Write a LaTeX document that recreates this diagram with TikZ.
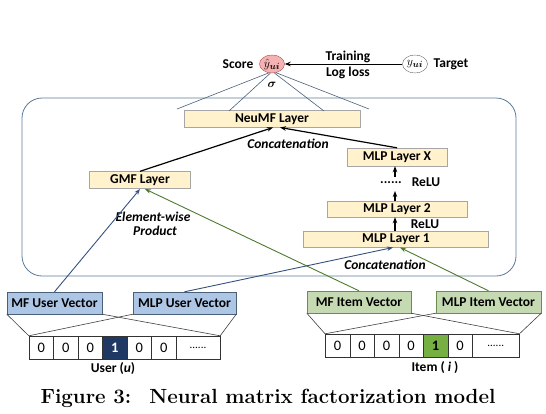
\documentclass[tikz,border=0pt]{standalone}
\usepackage{amsmath}
\usepackage{fontspec}
\setsansfont{Carlito}
\usetikzlibrary{arrows.meta,shapes.geometric}
\definecolor{yel}{HTML}{FFF2CC}
\definecolor{yelb}{HTML}{A6A6A6}
\definecolor{ufill}{HTML}{ADC6E5}
\definecolor{uline}{HTML}{4A6078}
\definecolor{ifill}{HTML}{C5D9B3}
\definecolor{iline}{HTML}{6D8B4E}
\definecolor{ucell}{HTML}{1F3864}
\definecolor{icell}{HTML}{76B043}
\definecolor{uarrow}{HTML}{35527F}
\definecolor{iarrow}{HTML}{4E7A2E}
\definecolor{contc}{HTML}{5B7A99}
\definecolor{scfill}{HTML}{F4B2B2}
\definecolor{scline}{HTML}{B04848}
\begin{document}
\begin{tikzpicture}[x=1pt,y=-1pt,
  lbl/.style={font=\sffamily\bfseries\fontsize{13.5}{14}\selectfont, inner sep=0pt},
  ilbl/.style={font=\sffamily\bfseries\itshape\fontsize{13.5}{14}\selectfont, inner sep=0pt},
  layer/.style={lbl, draw=yelb, fill=yel, minimum height=17pt},
  uvec/.style={lbl, draw=uline, fill=ufill, minimum height=22pt},
  ivec/.style={lbl, draw=iline, fill=ifill, minimum height=22pt},
  cell/.style={draw=black!80, minimum width=24.5pt, minimum height=23pt, inner sep=0pt, font=\sffamily\fontsize{14.5}{14.5}\selectfont},
  bigcell/.style={cell, font=\sffamily\fontsize{11}{11}\selectfont},
  blk/.style={-{Stealth[length=6pt,width=4.5pt]}, line width=1.2pt, black},
  uarr/.style={-{Stealth[length=6pt,width=4.5pt]}, line width=0.9pt, uarrow},
  iarr/.style={-{Stealth[length=6pt,width=4.5pt]}, line width=0.9pt, iarrow},
  thin/.style={draw=uline, line width=0.6pt},
  trap/.style={draw=black!75, line width=0.6pt}
]
\useasboundingbox (0,0) rectangle (546,413);

% container
\node[draw=contc, line width=0.8pt, rounded corners=20pt, minimum width=494pt, minimum height=178pt, inner sep=0pt] (cont) at (269,187) {};

% top
\node[ellipse, draw=scline, fill=scfill, minimum width=25pt, minimum height=18pt, inner sep=0pt] (score) at (272,64) {\fontsize{12.5}{12}\selectfont$\hat{y}_{\boldsymbol{ui}}$};
\node[ellipse, draw=black!60, fill=white, minimum width=25pt, minimum height=18pt, inner sep=0pt] (target) at (415,64) {\fontsize{12.5}{12}\selectfont$y_{\boldsymbol{ui}}$};
\node[lbl] (scorel) at (238,64) {Score};
\node[lbl] (targetl) at (451,64) {Target};
\node[lbl] (train) at (348,57) {Training};
\node[lbl] (logl) at (348,73) {Log loss};
\draw[blk, line width=1pt] (target) -- (score);
\node[inner sep=0pt] (sig) at (272,85) {\fontsize{12}{12}\selectfont$\boldsymbol{\sigma}$};

% layers
\node[layer, minimum width=176pt] (neu) at (272,119) {NeuMF Layer};
\node[layer, minimum width=100pt, minimum height=18pt] (mlpx) at (397,157) {MLP Layer X};
\node[layer, minimum width=101pt] (gmf) at (140,180) {GMF Layer};
\node[layer, minimum width=140pt, minimum height=16pt] (mlp2) at (397,209) {MLP Layer 2};
\node[layer, minimum width=185pt, minimum height=16pt] (mlp1) at (396,239) {MLP Layer 1};
\node[lbl] (dots) at (391,183) {......};
\node[lbl] (relu1) at (426,182) {ReLU};
\node[lbl] (relu2) at (425,224) {ReLU};
\node[ilbl] (conc1) at (288,144) {Concatenation};
\node[ilbl] (conc2) at (385,265) {Concatenation};
\node[ilbl] (elem) at (153,217) {Element-wise};
\node[ilbl] (prod) at (155,231) {Product};

% sigma fan
\coordinate (f1) at (177,109);
\coordinate (f2) at (229,111);
\coordinate (f3) at (324,111);
\coordinate (f4) at (369,109);
\draw[thin] (score.250) -- (f1);
\draw[thin] (score.260) -- (f2);
\draw[thin] (score.285) -- (f3);
\draw[thin] (score.295) -- (f4);

% black arrows
\coordinate (n1) at (273,127.5);
\coordinate (n2) at (280,127.5);
\draw[blk] (gmf.north) -- (n1);
\draw[blk] (mlpx.north) -- (n2);
\draw[blk] (mlp1.north -| 395,0) -- (mlp2.south -| 395,0);
\coordinate (d1) at (395,191);
\coordinate (d2) at (395,177);
\draw[blk] (mlp2.north -| 395,0) -- (d1);
\draw[blk] (d2) -- (mlpx.south -| 395,0);

% vectors
\node[uvec, minimum width=95pt] (mfu) at (54.5,303) {MF User Vector};
\node[uvec, minimum width=103pt] (mlpu) at (184.5,303) {MLP User Vector};
\node[ivec, minimum width=104pt] (mfi) at (359,302) {MF Item Vector};
\node[ivec, minimum width=105pt] (mlpi) at (488.5,302) {MLP Item Vector};

% arrows into layers
\coordinate (g1) at (140,189);
\coordinate (g2) at (145,189);
\coordinate (m1) at (393,247.5);
\coordinate (m2) at (400,247.5);
\draw[uarr] (mfu.north) -- (g1);
\draw[iarr] (mfi.north) -- (g2);
\draw[uarr] (mlpu.north) -- (m1);
\draw[iarr] (mlpi.north) -- (m2);

% user one-hot
\node[cell] (u1) at (41.25,347.5) {0};
\node[cell] (u2) at (65.75,347.5) {0};
\node[cell] (u3) at (90.25,347.5) {0};
\node[cell, fill=ucell, text=white, font=\sffamily\bfseries\fontsize{14.5}{14.5}\selectfont] (u4) at (114.75,347.5) {1};
\node[cell] (u5) at (139.25,347.5) {0};
\node[cell] (u6) at (163.75,347.5) {0};
\node[bigcell, minimum width=44pt] (u7) at (198,347.5) {......};
\node[lbl] (ulab) at (113,369) {User (\textit{u})};

% item one-hot
\node[cell] (i1) at (337.5,345.5) {0};
\node[cell] (i2) at (362,345.5) {0};
\node[cell] (i3) at (386.5,345.5) {0};
\node[cell] (i4) at (411,345.5) {0};
\node[cell, fill=icell, font=\sffamily\bfseries\fontsize{14.5}{14.5}\selectfont] (i5) at (435.5,345.5) {1};
\node[cell] (i6) at (460,345.5) {0};
\node[bigcell, minimum width=47pt] (i7) at (495.75,345.5) {......};
\node[lbl] (ilab) at (435,368) {Item ( \textit{i} )};

% trapezoid lines
\draw[trap] (mfu.south west) -- (u1.north west);
\draw[trap] (mfu.south east) -- (u7.north east);
\draw[trap] (mlpu.south west) -- (u1.north west);
\draw[trap] (mlpu.south east) -- (u7.north east);
\draw[trap] (mfi.south west) -- (i1.north west);
\draw[trap] (mfi.south east) -- (i7.north east);
\draw[trap] (mlpi.south west) -- (i1.north west);
\draw[trap] (mlpi.south east) -- (i7.north east);

% caption
\node[font=\rmfamily\bfseries\fontsize{20.5}{22}\selectfont, inner sep=0pt] (cap) at (268,398) {Figure 3: \ Neural matrix factorization model};
\end{tikzpicture}
\end{document}
